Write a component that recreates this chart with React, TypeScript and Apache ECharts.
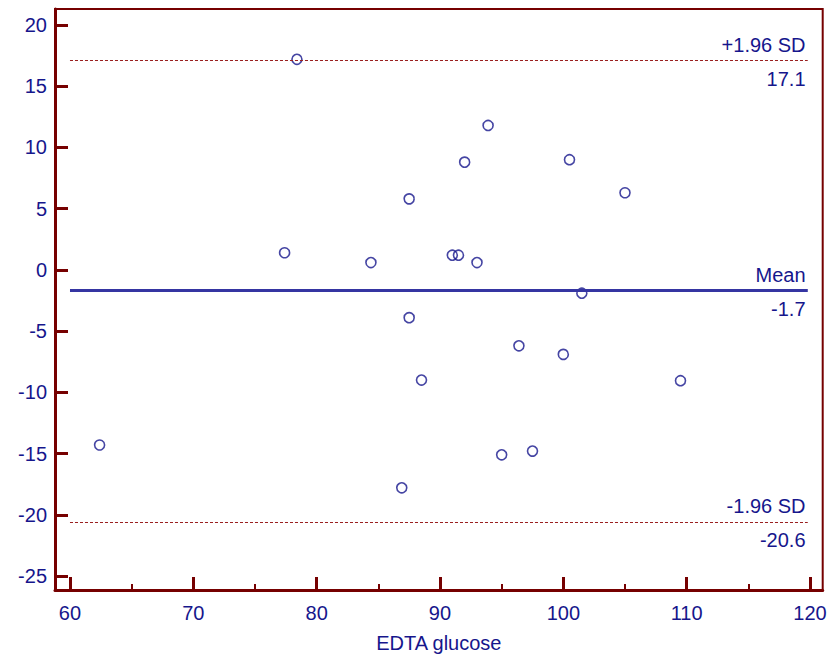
import React, { useEffect, useRef } from "react";
import * as echarts from "echarts";

const glucose = [62.4, 77.4, 78.4, 84.4, 87.5, 87.5, 86.9, 88.5, 91.0, 91.5, 92.0, 93.0, 93.9, 95.0, 96.4, 97.5, 100.0, 100.5, 101.5, 105.0, 109.5];
const difference = [-14.3, 1.4, 17.2, 0.6, 5.8, -3.9, -17.8, -9.0, 1.2, 1.2, 8.8, 0.6, 11.8, -15.1, -6.2, -14.8, -6.9, 9.0, -1.9, 6.3, -9.05];

const xTicks = [60, 70, 80, 90, 100, 110, 120];
const xMinorTicks = [65, 75, 85, 95, 105, 115];
const yTicks = [-25, -20, -15, -10, -5, 0, 5, 10, 15, 20];

const meanDiff = -1.7;
const upperLimit = 17.1;
const lowerLimit = -20.6;
const lineStart = 60;
const lineEnd = 119.8;

const AXIS_RED = "#760000";
const NAVY = "#16168c";
const FONT = "'Liberation Sans', Arial, sans-serif";

export default function App() {
  const ref = useRef<HTMLDivElement>(null);
  useEffect(() => {
    if (!ref.current) return;
    const chart = echarts.init(ref.current, null, { renderer: "svg" });
    const labelBase = { color: NAVY, fontSize: 20, fontFamily: FONT };
    const refLine = (value: number, text: string, pos: string, style: any, dist: number) => [
      {
        coord: [lineStart, value],
        lineStyle: style,
        label: { show: true, position: pos, formatter: text, distance: [2, dist], ...labelBase },
      },
      { coord: [lineEnd, value] },
    ];
    const dashStyle = { color: "#9a2020", width: 1, type: [3, 2] };
    const meanStyle = { color: "#3535a2", width: 3, type: "solid" };
    chart.setOption({
      animation: false,
      grid: {
        left: 55,
        top: 9,
        right: 8.3,
        bottom: 69,
        show: true,
        borderColor: AXIS_RED,
        borderWidth: 2,
        backgroundColor: "transparent",
      },
      xAxis: [
        {
          type: "value",
          min: 58.784,
          max: 121.03,
          position: "bottom",
          name: "EDTA glucose",
          nameLocation: "middle",
          nameGap: 43,
          nameTextStyle: { ...labelBase },
          axisLine: { show: true, onZero: false, lineStyle: { color: AXIS_RED, width: 3 } },
          axisTick: { show: true, inside: true, length: 13, customValues: xTicks, lineStyle: { color: AXIS_RED, width: 3 } },
          axisLabel: { show: true, customValues: xTicks, margin: 13, ...labelBase },
          splitLine: { show: false },
        },
        {
          type: "value",
          min: 58.784,
          max: 121.03,
          position: "bottom",
          axisLine: { show: false, onZero: false },
          axisTick: { show: true, inside: true, length: 6, customValues: xMinorTicks, lineStyle: { color: AXIS_RED, width: 2 } },
          axisLabel: { show: false },
          splitLine: { show: false },
        },
      ],
      yAxis: {
        type: "value",
        min: -26.143,
        max: 21.307,
        axisLine: { show: true, onZero: false, lineStyle: { color: AXIS_RED, width: 3 } },
        axisTick: { show: true, inside: true, length: 13, customValues: yTicks, lineStyle: { color: AXIS_RED, width: 3 } },
        axisLabel: { show: true, customValues: yTicks, margin: 8, ...labelBase },
        splitLine: { show: false },
      },
      series: [
        {
          type: "scatter",
          xAxisIndex: 0,
          data: glucose.map((g, i) => [g, difference[i]]),
          symbol: "circle",
          symbolSize: 10,
          itemStyle: { color: "transparent", borderColor: NAVY, borderWidth: 1.6 },
          z: 3,
          markLine: {
            silent: true,
            symbol: "none",
            animation: false,
            data: [
              refLine(upperLimit, "+1.96 SD", "insideEndTop", dashStyle, 6),
              refLine(upperLimit, "17.1", "insideEndBottom", dashStyle, 8),
              refLine(meanDiff, "Mean", "insideEndTop", meanStyle, 6),
              refLine(meanDiff, "-1.7", "insideEndBottom", meanStyle, 8),
              refLine(lowerLimit, "-1.96 SD", "insideEndTop", dashStyle, 6),
              refLine(lowerLimit, "-20.6", "insideEndBottom", dashStyle, 8),
            ],
          },
        },
      ],
    });
    return () => chart.dispose();
  }, []);
  return (
    <div
      ref={ref}
      style={{ position: "fixed", left: 0, top: 0, width: 831, height: 659, background: "#fff" }}
    />
  );
}
